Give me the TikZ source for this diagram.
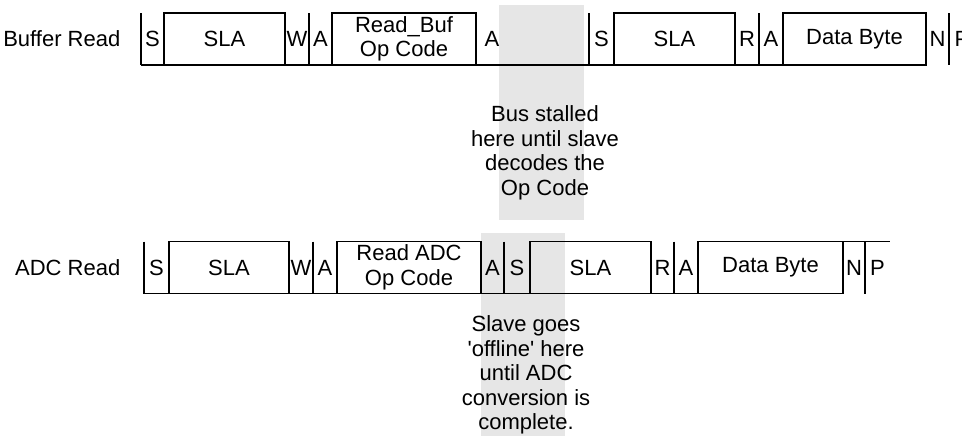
\documentclass[tikz,border=0pt]{standalone}
\usepackage{fontspec}
\newfontfamily\arialfont{Liberation Sans}
\usetikzlibrary{positioning}
\definecolor{stallgray}{RGB}{230,230,230}

\tikzset{
  field/.style={minimum height=39pt, minimum width=#1*0.75pt, inner sep=0pt, outer sep=0pt, anchor=west},
  bytebox/.style={field=#1, draw, line width=1pt},
  seg/.style={line width=1pt},
  note/.style={align=center},
}

\begin{document}
\begin{tikzpicture}[x=0.75pt,y=0.75pt,yscale=-1,xscale=1,font=\arialfont\fontsize{16.5}{18.4}\selectfont]
\useasboundingbox (0,0) rectangle (962,436);

% stall regions
\fill [stallgray] (499,5) rectangle (584,220);
\fill [stallgray] (481,233) rectangle (565,436);

% Buffer Read
\node [anchor=east] (lbuf) at (125,39) {Buffer Read};
\node [field=23] (s1) at (141,39) {S};
\node [bytebox=121, right=0pt of s1] (sla1) {SLA};
\node [field=24, right=0pt of sla1] (w1) {W};
\node [field=23, right=0pt of w1] (a1) {A};
\node [bytebox=144, right=0pt of a1, align=center] (op1) {Read\_Buf\\Op Code};
\node [field=113, right=0pt of op1] (a2) {};
\node [field=25, right=0pt of a2] (s2) {S};
\node [bytebox=121, right=0pt of s2] (sla2) {SLA};
\node [field=24, right=0pt of sla2] (r1) {R};
\node [field=24, right=0pt of r1] (a3) {A};
\node [bytebox=143, right=0pt of a3] (db1) {Data Byte};
\node [field=23, right=0pt of db1] (n1) {N};
\node [field=26, right=0pt of n1] (p1) {P};
\node (a2t) at ([xshift=16*0.75pt]a2.west) {A};
\foreach \f in {s1,w1,a1,s2,r1,a3,n1,p1}
  \draw [seg] (\f.north west) -- (\f.south west);
\draw [seg] (s1.south west) -- (db1.south east);

% ADC Read
\node [anchor=east] (ladc) at (125,268) {ADC Read};
\node [field=25] (s3) at (144,267.5) {S};
\node [bytebox=120, right=0pt of s3] (sla3) {SLA};
\node [field=24, right=0pt of sla3] (w2) {W};
\node [field=24, right=0pt of w2] (a4) {A};
\node [bytebox=144, right=0pt of a4, align=center] (op2) {Read ADC\\Op Code};
\node [field=23, right=0pt of op2] (a5) {A};
\node [field=26, right=0pt of a5] (s4) {S};
\node [bytebox=121, right=0pt of s4] (sla4) {SLA};
\node [field=23, right=0pt of sla4] (r2) {R};
\node [field=24, right=0pt of r2] (a6) {A};
\node [bytebox=145, right=0pt of a6] (db2) {Data Byte};
\node [field=22, right=0pt of db2] (n2) {N};
\node [field=25, right=0pt of n2] (p2) {P};
\foreach \f in {s3,w2,a4,a5,s4,r2,a6,n2,p2}
  \draw [seg] (\f.north west) -- (\f.south west);
\draw [seg] (s3.south west) -- (db2.south east);
\draw [seg] (n2.north west) -- (p2.north east);

% notes
\node [note] (stall) at (545,153) {Bus stalled\\here until slave\\decodes the\\Op Code};
\node [note] (offline) at (526,375) {Slave goes\\'offline' here\\until ADC\\conversion is\\complete.};
\end{tikzpicture}
\end{document}
